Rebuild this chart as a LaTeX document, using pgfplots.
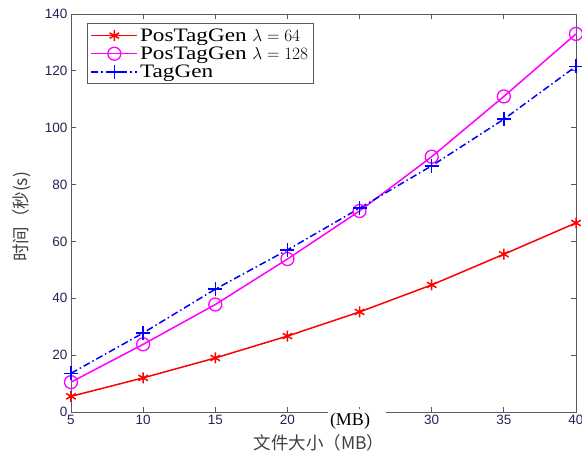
\documentclass[border=0pt]{standalone}
\usepackage{pgfplots}
\pgfplotsset{compat=1.18}
\usepackage{fontspec}
\setmainfont{Liberation Serif}
\setsansfont{Liberation Sans}
\newfontfamily\cjk{Noto Sans CJK SC}
\newfontfamily\legfont{Liberation Serif}[FakeStretch=1.22]
\definecolor{tickc}{RGB}{35,35,85}
\definecolor{axc}{RGB}{90,90,90}
\definecolor{mag}{RGB}{255,0,255}
\definecolor{rd}{RGB}{255,0,0}
\definecolor{bl}{RGB}{0,0,255}
\begin{document}
\begin{tikzpicture}
\begin{axis}[name=ax, at={(0,0)}, anchor=south west, scale only axis,
  width=505pt, height=398pt,
  xmin=5, xmax=40, ymin=0, ymax=140,
  xtick={5,10,...,40}, xticklabels={5,10,15,20,,30,35,40},
  ytick={0,20,...,140},
  tick align=inside, major tick length=5pt,
  axis line style={axc, line width=0.9pt},
  tick style={axc, line width=0.8pt},
  ticklabel style={font=\sffamily\fontsize{13.5}{14}\selectfont, text=tickc},
  /pgf/number format/assume math mode=true,
  xlabel={\cjk 文件大小（MB）},
  ylabel={\cjk 时间（秒(s)},
  xlabel style={at={(axis description cs:0.491,-0.078)}, anchor=center, font=\fontsize{17.5}{18}\selectfont, text=black!75},
  ylabel style={at={(axis description cs:-0.097,0.49)}, anchor=center, font=\fontsize{17.5}{18}\selectfont, text=black!75},
  legend style={at={(axis description cs:0.032,0.977)}, anchor=north west,
    draw=axc, line width=0.9pt, font=\legfont\fontsize{19}{22}\selectfont,
    inner xsep=3pt, inner ysep=3pt, row sep=0pt},
  legend cell align=left,
  legend image code/.code={\draw[line width=1.5pt, mark repeat=2, mark phase=2] plot coordinates {(0pt,0pt)(23pt,0pt)(46pt,0pt)};},
]
\addplot[rd, line width=1.5pt, mark=asterisk, mark size=5.5pt, mark options={line width=1.5pt, solid}]
  coordinates {(5,5.5)(10,12)(15,19)(20,26.7)(25,35.2)(30,44.7)(35,55.5)(40,66.5)};
\addlegendentry{PosTagGen $\lambda=64$}
\addplot[mag, line width=1.5pt, mark=o, mark size=6.5pt, mark options={line width=1.3pt, solid}]
  coordinates {(5,10.5)(10,23.8)(15,37.8)(20,53.8)(25,70.7)(30,89.8)(35,111)(40,133)};
\addlegendentry{PosTagGen $\lambda=128$}
\addplot[bl, line width=1.5pt, dash pattern=on 7pt off 3pt on 1.5pt off 3pt, mark=+, mark size=7pt, mark options={line width=1.5pt, solid}]
  coordinates {(5,13.6)(10,27.8)(15,43.2)(20,57)(25,71.7)(30,86.6)(35,103)(40,121.6)};
\addlegendentry{TagGen}
\end{axis}
\node[fill=white, minimum width=58pt, minimum height=19pt, inner sep=0pt] at ([shift={(286pt,-6.5pt)}]ax.south west) {};
\node[inner sep=0pt, font=\fontsize{18}{19}\selectfont] at ([shift={(279pt,-9pt)}]ax.south west) {(MB)};
\pgfresetboundingbox
\path[use as bounding box] ([shift={(-71pt,-47pt)}]ax.south west) rectangle ([shift={(6pt,14pt)}]ax.north east);
\end{tikzpicture}
\end{document}
